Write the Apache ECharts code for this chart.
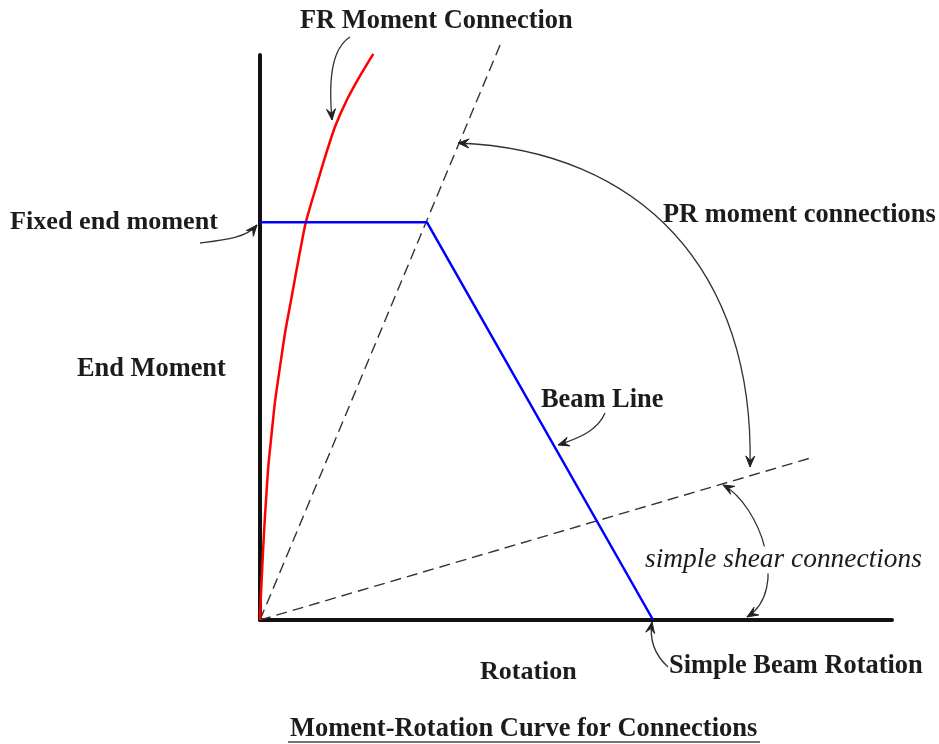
<!DOCTYPE html>
<html>
<head>
<meta charset="utf-8">
<title>Moment-Rotation Curve for Connections</title>
<script src="https://cdn.jsdelivr.net/npm/echarts@6/dist/echarts.min.js"></script>
<style>
  html, body { margin: 0; padding: 0; background: #ffffff; }
  #main { width: 939px; height: 744px; }
</style>
</head>
<body>
<div id="main"></div>
<script>
// ---- data (arbitrary units, x: rotation 0..100, y: end moment 0..100)
var fixedEndMoment = 70.4;
var simpleBeamRotation = 62.2;
var beamKnee = 26.4;

// FR moment connection curve
var frX = [0, 0.11, 0.36, 0.63, 0.95, 1.31, 1.85, 2.37, 3.16, 3.96, 4.91, 5.81, 7.23, 9.02, 10.28, 11.87, 13.72, 15.82, 17.93];
var frY = [0, 3.5, 9.4, 15.4, 21.2, 27.1, 33.1, 38.6, 44.8, 50.8, 56.6, 62.1, 70.3, 77.2, 81.9, 87.3, 92.0, 96.3, 100.2];

// beam line
var beamX = [0, beamKnee, simpleBeamRotation];
var beamY = [fixedEndMoment, fixedEndMoment, 0];

// dashed limits of the PR region
var upperLimitX = [0, 38.0];
var upperLimitY = [0, 101.8];
var lowerLimitX = [0, 87.2];
var lowerLimitY = [0, 28.7];

function pairs(xs, ys) {
  var out = [];
  for (var i = 0; i < xs.length; i++) out.push([xs[i], ys[i]]);
  return out;
}

// ---- annotation helpers
var FONT = '"Liberation Serif", "Times New Roman", serif';
var TXT = '#1c1c1c';

function label(text, x, y, opt) {
  opt = opt || {};
  return {
    type: 'text',
    x: x,
    y: y,
    z: 20,
    style: {
      text: text,
      font: (opt.italic ? 'italic ' : 'bold ') + (opt.size || 26.4) + 'px ' + FONT,
      fill: TXT,
      align: 'left',
      verticalAlign: 'middle',
      backgroundColor: opt.bg || null,
      padding: opt.bg ? [0, 3] : 0
    }
  };
}

function head(tip, from) {
  var dx = tip[0] - from[0], dy = tip[1] - from[1];
  var len = Math.sqrt(dx * dx + dy * dy);
  dx /= len; dy /= len;
  var L = 11, W = 4.5;
  var bx = tip[0] - L * dx, by = tip[1] - L * dy;
  return {
    type: 'polygon',
    z: 15,
    shape: {
      points: [
        tip,
        [bx - W * dy, by + W * dx],
        [tip[0] - 0.6 * L * dx, tip[1] - 0.6 * L * dy],
        [bx + W * dy, by - W * dx]
      ]
    },
    style: { fill: '#222', stroke: '#222', lineWidth: 1 }
  };
}

function arrow(p, both) {
  var els = [{
    type: 'bezierCurve',
    z: 15,
    shape: {
      x1: p[0][0], y1: p[0][1],
      cpx1: p[1][0], cpy1: p[1][1],
      cpx2: p[2][0], cpy2: p[2][1],
      x2: p[3][0], y2: p[3][1]
    },
    style: { stroke: '#333', lineWidth: 1.3, fill: null }
  }];
  els.push(head(p[3], p[2]));
  if (both) els.push(head(p[0], p[1]));
  return els;
}

var chart = echarts.init(document.getElementById('main'), null, { renderer: 'canvas' });

var graphics = [].concat(
  arrow([[350, 37], [333, 48], [328, 75], [332, 120]]),
  arrow([[200, 243], [225, 240], [246, 238], [257, 225]]),
  arrow([[458, 143], [640, 150], [755, 270], [750, 467]], true),
  arrow([[605, 413], [598, 430], [580, 438], [558, 445]]),
  arrow([[723, 485], [760, 505], [790, 590], [747, 617]], true),
  arrow([[668, 667], [655, 655], [649, 640], [652, 622]]),
  [
    label('FR Moment Connection', 300, 21),
    label('Fixed end moment', 10, 222, { size: 26.2 }),
    label('End Moment', 77, 369),
    label('PR moment connections', 663, 215),
    label('Beam Line', 541, 400),
    label('simple shear connections', 642, 560, { size: 27.4, italic: true, bg: '#ffffff' }),
    label('Rotation', 480, 672, { size: 26 }),
    label('Simple Beam Rotation', 669, 666),
    label('Moment-Rotation Curve for Connections', 290, 729, { size: 26.5 }),
    {
      type: 'line',
      z: 15,
      shape: { x1: 288, y1: 742, x2: 760, y2: 742 },
      style: { stroke: '#444', lineWidth: 1.5 }
    }
  ]
);

chart.setOption({
  animation: false,
  backgroundColor: '#ffffff',
  grid: { left: 260, top: 55, width: 632, height: 565, containLabel: false },
  xAxis: {
    type: 'value', min: 0, max: 100,
    axisLine: { show: true, lineStyle: { color: '#111', width: 4 } },
    axisTick: { show: false }, axisLabel: { show: false }, splitLine: { show: false }
  },
  yAxis: {
    type: 'value', min: 0, max: 100,
    axisLine: { show: true, lineStyle: { color: '#111', width: 4 } },
    axisTick: { show: false }, axisLabel: { show: false }, splitLine: { show: false }
  },
  series: [
    {
      name: 'upper limit', type: 'line', data: pairs(upperLimitX, upperLimitY),
      symbol: 'none', clip: false, z: 3,
      lineStyle: { color: '#333', width: 1.4, type: [11, 6] }
    },
    {
      name: 'lower limit', type: 'line', data: pairs(lowerLimitX, lowerLimitY),
      symbol: 'none', clip: false, z: 3,
      lineStyle: { color: '#333', width: 1.4, type: [11, 6] }
    },
    {
      name: 'FR Moment Connection', type: 'line', data: pairs(frX, frY),
      symbol: 'none', smooth: 0.2, clip: false, z: 5,
      lineStyle: { color: '#ff0000', width: 2.5 }
    },
    {
      name: 'Beam Line', type: 'line', data: pairs(beamX, beamY),
      symbol: 'none', clip: false, z: 6,
      lineStyle: { color: '#0000ff', width: 2.5 }
    }
  ],
  graphic: graphics
});
</script>
</body>
</html>
